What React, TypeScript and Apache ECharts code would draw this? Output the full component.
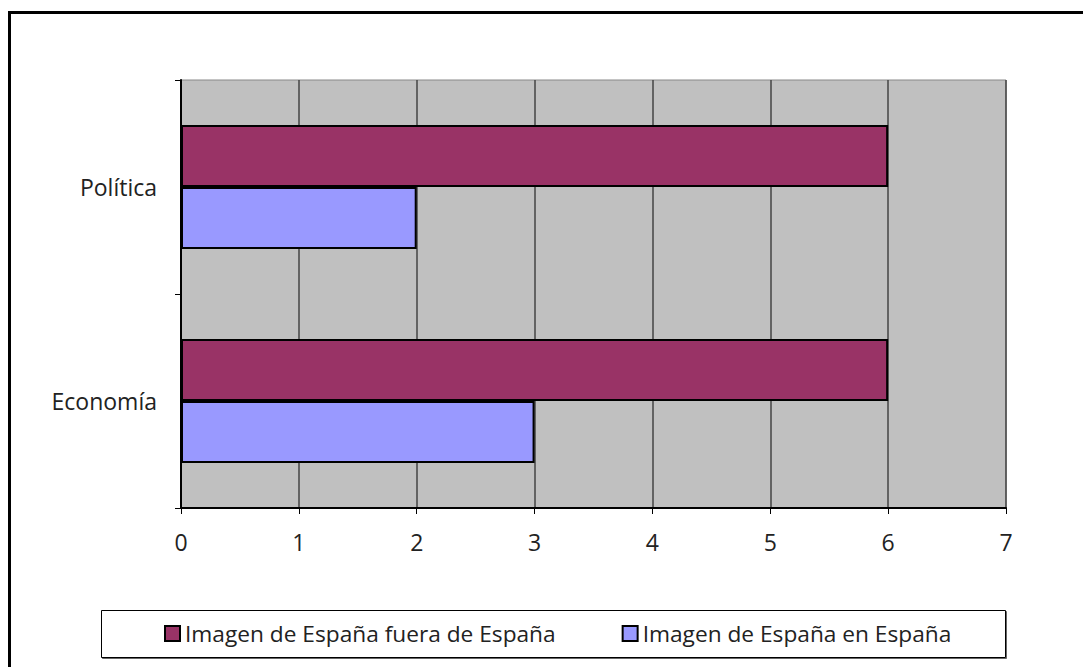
import React, { useEffect, useRef } from "react";
import * as echarts from "echarts";

const categories = ["Economía", "Política"];
const seriesFuera = [6, 6];
const seriesEn = [3, 2];
const nameFuera = "Imagen de España fuera de España";
const nameEn = "Imagen de España en España";
const xTicks = { min: 0, max: 7, interval: 1 };

const FONT = "'Open Sans', sans-serif";

export default function App() {
  const ref = useRef<HTMLDivElement>(null);
  useEffect(() => {
    if (!ref.current) return;
    const chart = echarts.init(ref.current, null, { renderer: "svg" });
    chart.setOption({
      animation: false,
      backgroundColor: "#ffffff",
      textStyle: { fontFamily: FONT },
      graphic: [
        {
          type: "rect",
          shape: { x: 9.5, y: 12.5, width: 1100, height: 700 },
          style: { fill: "none", stroke: "#000", lineWidth: 3 },
          z: 100,
        },
        {
          type: "rect",
          shape: { x: 101.5, y: 610.5, width: 904, height: 47 },
          style: { fill: "#fff", stroke: "#000", lineWidth: 1, shadowColor: "#666", shadowOffsetY: 1, shadowOffsetX: 1 },
          z: 0,
        },
      ],
      grid: {
        left: 181,
        top: 80,
        width: 825,
        height: 428,
        show: true,
        backgroundColor: "#c0c0c0",
        borderColor: "#888",
        borderWidth: 1,
        containLabel: false,
      },
      legend: {
        data: [nameFuera, nameEn],
        left: 159,
        top: 617,
        itemWidth: 15,
        itemHeight: 15,
        itemGap: 66,
        icon: "rect",
        itemStyle: { borderColor: "#000", borderWidth: 2 },
        textStyle: { fontFamily: FONT, fontSize: 22.7, color: "#222" },
        z: 10,
      },
      xAxis: {
        type: "value",
        min: xTicks.min,
        max: xTicks.max,
        interval: xTicks.interval,
        axisLine: { show: true, lineStyle: { color: "#000", width: 2 } },
        axisTick: { show: true, length: 6, lineStyle: { color: "#000", width: 1 } },
        axisLabel: { fontFamily: FONT, fontSize: 23, color: "#222", margin: 22 },
        splitLine: { show: true, lineStyle: { color: "#444", width: 1.5 } },
      },
      yAxis: {
        type: "category",
        data: categories,
        axisLine: { show: true, lineStyle: { color: "#000", width: 2 } },
        axisTick: { show: true, length: 6, lineStyle: { color: "#000", width: 1 } },
        axisLabel: { fontFamily: FONT, fontSize: 23, color: "#222", margin: 24 },
        splitLine: { show: false },
      },
      series: [
        {
          name: nameFuera,
          type: "bar",
          data: seriesFuera,
          barGap: "0%",
          barCategoryGap: "42%",
          itemStyle: { color: "#993366", borderColor: "#000", borderWidth: 2 },
        },
        {
          name: nameEn,
          type: "bar",
          data: seriesEn,
          barGap: "0%",
          barCategoryGap: "42%",
          itemStyle: { color: "#9999ff", borderColor: "#000", borderWidth: 2 },
        },
      ],
    });
    return () => chart.dispose();
  }, []);
  return (
    <div
      ref={ref}
      style={{ position: "fixed", left: 0, top: 0, width: 1083, height: 667 }}
    />
  );
}
